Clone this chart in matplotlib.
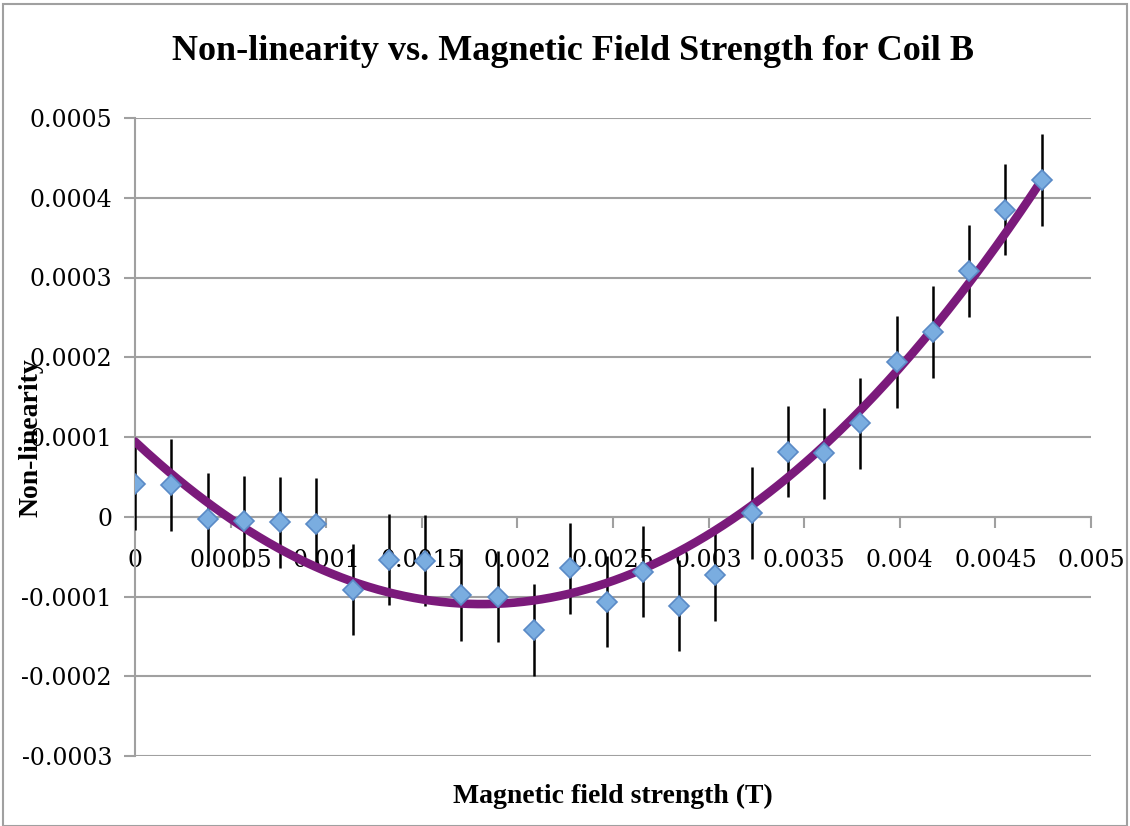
import numpy as np
import matplotlib.pyplot as plt
from matplotlib.patches import Rectangle

# data
field = np.arange(26) * 0.0001897
nonlin = [0.0000413, 0.0000396, -0.0000029, -0.0000058, -0.0000071, -0.0000092,
          -0.0000913, -0.0000538, -0.000055, -0.0000979, -0.0001, -0.0001421,
          -0.0000646, -0.0001063, -0.0000688, -0.0001113, -0.0000733, 0.0000046,
          0.0000817, 0.0000796, 0.0001171, 0.0001938, 0.0002317, 0.0003083,
          0.000385, 0.0004225]
err = 0.0000573

xticks = [0, 0.0005, 0.001, 0.0015, 0.002, 0.0025, 0.003, 0.0035, 0.004, 0.0045, 0.005]
xlabels = ["0", "0.0005", "0.001", "0.0015", "0.002", "0.0025", "0.003",
           "0.0035", "0.004", "0.0045", "0.005"]
yticks = [-0.0003, -0.0002, -0.0001, 0, 0.0001, 0.0002, 0.0003, 0.0004, 0.0005]
ylabels = ["-0.0003", "-0.0002", "-0.0001", "0", "0.0001", "0.0002", "0.0003",
           "0.0004", "0.0005"]

plt.rcParams['font.family'] = ['Liberation Serif', 'DejaVu Serif']

fig = plt.figure(figsize=(11.3, 8.26), dpi=100)
ax = fig.add_axes([135 / 1130, 1 - 756 / 826, (1091 - 135) / 1130, (756 - 118) / 826])

# polynomial trendline (order 2)
coef = np.polyfit(field, nonlin, 2)
xs = np.linspace(field[0], field[-1], 300)
ax.plot(xs, np.polyval(coef, xs), color="#7B1A7B", lw=6.2, solid_capstyle="round", zorder=4)

ax.errorbar(field, nonlin, yerr=err, fmt="none", ecolor="black", elinewidth=1.8,
            capsize=0, zorder=3)
ax.plot(field, nonlin, "D", ms=10, mfc="#7AADE0", mec="#5A8AC6", mew=1.2, zorder=5)

ax.spines['bottom'].set_position(('data', 0))
for s in ['top', 'right']:
    ax.spines[s].set_visible(False)
for s in ['bottom', 'left']:
    ax.spines[s].set_color("#A0A0A0")
    ax.spines[s].set_linewidth(1.5)

ax.set_xlim(0, 0.005)
ax.set_ylim(-0.0003, 0.0005)
ax.set_xticks(xticks)
ax.set_xticklabels(xlabels, family="DejaVu Serif")
ax.set_yticks(yticks)
ax.set_yticklabels(ylabels, family="DejaVu Serif")
ax.tick_params(axis='x', direction='out', length=8, width=1.5, color="#A0A0A0",
               pad=15, labelsize=17)
ax.tick_params(axis='y', direction='out', length=8, width=1.5, color="#A0A0A0",
               pad=8.5, labelsize=17)
ax.yaxis.grid(True, color="#A0A0A0", lw=1.5)
ax.set_axisbelow(True)

fig.text(573 / 1130, 1 - 51 / 826, "Non-linearity vs. Magnetic Field Strength for Coil B",
         ha="center", va="center", fontsize=26, fontweight="bold")
fig.text(613 / 1130, 1 - 796 / 826, "Magnetic field strength (T)",
         ha="center", va="center", fontsize=20, fontweight="bold")
fig.text(31 / 1130, 1 - 438 / 826, "Non-linearity", rotation=90,
         ha="center", va="center", fontsize=20, fontweight="bold")

fig.patches.append(Rectangle((3 / 1130, 0), 1 - 6 / 1130, 1 - 4 / 826,
                             transform=fig.transFigure, fill=False,
                             edgecolor="#A0A0A0", lw=1.5))

fig.savefig("out.png", dpi=100)
